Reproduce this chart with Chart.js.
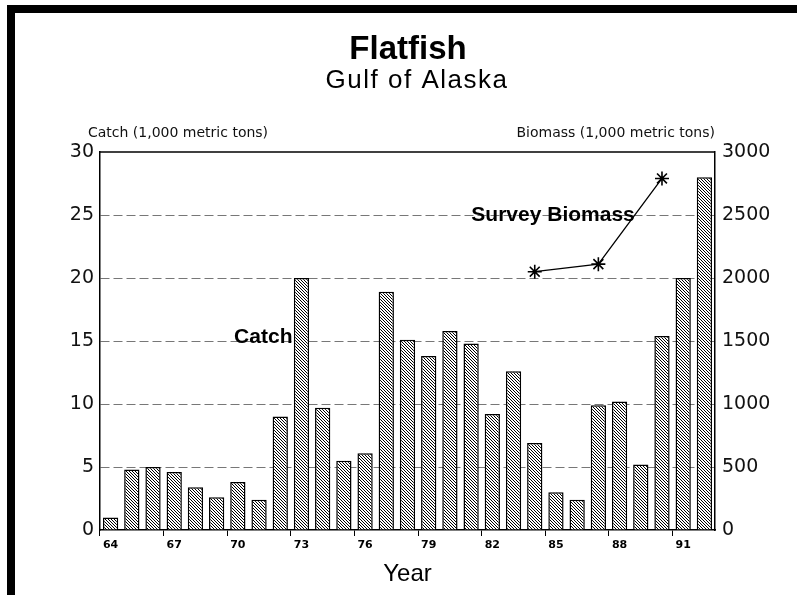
<!DOCTYPE html>
<html>
<head>
<meta charset="utf-8">
<script src="https://cdn.jsdelivr.net/npm/chart.js@4.4.1/dist/chart.umd.min.js"></script>
<style>
    body { margin: 0; background: #fff; }
    #wrap { position: absolute; left: 0; top: 0; width: 797px; height: 595px; }
    .edge { position: absolute; background: #000; }
</style>
</head>
<body>
<div id="wrap"><canvas id="chart"></canvas></div>
<div class="edge" style="left:7px;top:5px;width:790px;height:8px"></div>
<div class="edge" style="left:7px;top:5px;width:8px;height:590px"></div>
<script>
var years = ['1964', '1965', '1966', '1967', '1968', '1969', '1970', '1971', '1972', '1973',
    '1974', '1975', '1976', '1977', '1978', '1979', '1980', '1981', '1982', '1983',
    '1984', '1985', '1986', '1987', '1988', '1989', '1990', '1991', '1992'];
var catchTons = [1.0, 4.8, 5.0, 4.6, 3.4, 2.6, 3.8, 2.4, 9.0, 20.0,
    9.7, 5.5, 6.1, 18.9, 15.1, 13.8, 15.8, 14.8, 9.2, 12.6,
    6.9, 3.0, 2.4, 9.9, 10.2, 5.2, 15.4, 20.0, 28.0];
var biomass = [null, null, null, null, null, null, null, null, null, null,
    null, null, null, null, null, null, null, null, null, null,
    2050, null, null, 2110, null, null, 2790, null, null];
var tickYears = ['1964', '1967', '1970', '1973', '1976', '1979', '1982', '1985', '1988', '1991'];

// hatched fill for the bars
function hatch() {
    var c = document.createElement('canvas');
    c.width = 3;
    c.height = 3;
    var g = c.getContext('2d');
    g.fillStyle = '#fff';
    g.fillRect(0, 0, 3, 3);
    g.strokeStyle = '#000';
    g.lineWidth = 1;
    g.beginPath();
    g.moveTo(-1, -1); g.lineTo(4, 4);
    g.moveTo(-1, 2); g.lineTo(1, 4);
    g.moveTo(2, -1); g.lineTo(4, 1);
    g.stroke();
    return g.createPattern(c, 'repeat');
}

// titles, unit headers, series labels and the top frame line
var extras = {
    id: 'extras',
    afterDraw: function (chart) {
        var ctx = chart.ctx;
        var a = chart.chartArea;
        var x = chart.scales.x;
        var y = chart.scales.y;
        ctx.save();
        ctx.strokeStyle = '#000';
        ctx.lineWidth = 1.5;
        ctx.beginPath();
        ctx.moveTo(a.left, a.top);
        ctx.lineTo(a.right, a.top);
        ctx.stroke();

        ctx.fillStyle = '#000';
        ctx.textBaseline = 'alphabetic';
        ctx.textAlign = 'center';
        ctx.font = 'bold 33px "Liberation Sans"';
        ctx.fillText('Flatfish', 408, 59);
        ctx.font = '26px "Liberation Sans"';
        ctx.letterSpacing = '1.5px';
        ctx.fillText('Gulf of Alaska', 417, 88);
        ctx.letterSpacing = '0px';

        ctx.font = '14px "DejaVu Sans"';
        ctx.fillStyle = '#111';
        ctx.textAlign = 'left';
        ctx.fillText('Catch (1,000 metric tons)', 88, 137);
        ctx.textAlign = 'right';
        ctx.fillText('Biomass (1,000 metric tons)', a.right, 137);

        ctx.fillStyle = '#000';
        ctx.font = 'bold 21px "Liberation Sans"';
        ctx.textBaseline = 'middle';
        ctx.fillText('Catch', x.getPixelForValue(9) - 9, y.getPixelForValue(15.3));
        ctx.fillText('Survey Biomass', x.getPixelForValue(25) - 6, y.getPixelForValue(25));
        ctx.restore();
    }
};

var ctx = document.getElementById('chart');
new Chart(ctx, {
    type: 'bar',
    data: {
        labels: years,
        datasets: [{
            type: 'line',
            label: 'Survey Biomass',
            data: biomass,
            yAxisID: 'y2',
            borderColor: '#000',
            borderWidth: 1.3,
            spanGaps: true,
            pointStyle: 'star',
            pointRadius: 7,
            pointBorderWidth: 1.6,
            pointBorderColor: '#000',
            pointBackgroundColor: '#000'
        }, {
            label: 'Catch',
            data: catchTons,
            yAxisID: 'y',
            backgroundColor: hatch(),
            borderColor: '#000',
            borderWidth: 1.5,
            barPercentage: 0.72,
            categoryPercentage: 1
        }]
    },
    options: {
        responsive: true,
        maintainAspectRatio: false,
        animation: false,
        layout: { padding: { top: 152, left: 0, right: 0, bottom: 0 } },
        plugins: {
            legend: { display: false },
            tooltip: { enabled: false }
        },
        scales: {
            x: {
                afterFit: function (s) { s.height = 65; },
                grid: {
                    drawOnChartArea: false,
                    tickLength: 6,
                    tickColor: function (c) {
                        return tickYears.indexOf(years[c.index]) >= 0 ? '#000' : 'rgba(0,0,0,0)';
                    }
                },
                border: { color: '#000', width: 1.5 },
                ticks: {
                    autoSkip: false,
                    maxRotation: 0,
                    padding: 3,
                    color: '#000',
                    font: { family: 'DejaVu Sans', size: 11, weight: 'bold' },
                    callback: function (v, i) {
                        return tickYears.indexOf(years[i]) >= 0 ? years[i].slice(2) : '';
                    }
                },
                title: {
                    display: true,
                    text: 'Year',
                    color: '#000',
                    font: { family: 'Liberation Sans', size: 24 },
                    padding: { top: 0, bottom: 6 }
                }
            },
            y: {
                position: 'left',
                min: 0,
                max: 30,
                afterFit: function (s) { s.width = 100; },
                grid: {
                    drawTicks: false,
                    lineWidth: 1,
                    color: function (c) {
                        return (c.tick.value === 0 || c.tick.value === 30) ? 'rgba(0,0,0,0)' : '#777';
                    }
                },
                border: { color: '#000', width: 1.5, dash: [9, 4] },
                ticks: {
                    stepSize: 5,
                    padding: 6,
                    color: '#111',
                    font: { family: 'DejaVu Sans', size: 19 }
                }
            },
            y2: {
                position: 'right',
                min: 0,
                max: 3000,
                afterFit: function (s) { s.width = 82; },
                grid: { drawOnChartArea: false, drawTicks: false },
                border: { color: '#000', width: 1.5 },
                ticks: {
                    stepSize: 500,
                    padding: 7,
                    color: '#111',
                    font: { family: 'DejaVu Sans', size: 19 },
                    callback: function (v) { return String(v); }
                }
            }
        }
    },
    plugins: [extras]
});
</script>
</body>
</html>
